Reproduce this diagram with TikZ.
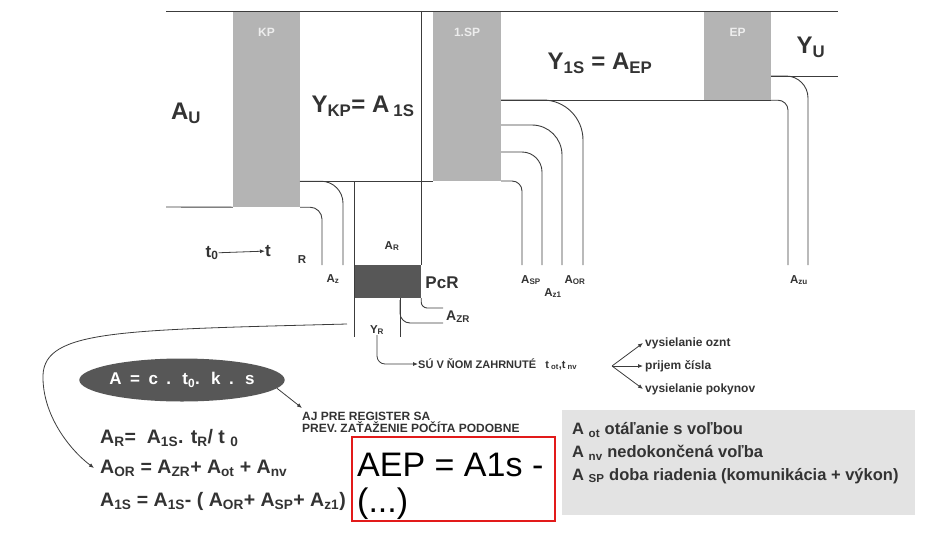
\documentclass[tikz,border=0pt]{standalone}
\usepackage{fontspec}
\setmainfont{Liberation Sans}
\newfontfamily\widesans[LetterSpace=22]{Liberation Sans}
\usepackage{tikz}
\usetikzlibrary{
    arrows.meta,
    positioning,
    shapes.geometric,
    calc
}
\definecolor{blockgray}{HTML}{B4B4B4}
\definecolor{darkblock}{HTML}{575757}
\definecolor{inkgray}{HTML}{333333}
\definecolor{linegray}{HTML}{3C3C3C}
\definecolor{notegray}{HTML}{E3E3E3}
\definecolor{markred}{HTML}{E21A1A}
\newcommand{\fsz}[1]{\fontsize{#1}{#1}\selectfont}
\newcommand{\subx}[1]{\textsubscript{#1}}

\begin{document}
\begin{tikzpicture}[
    x=1pt, y=-1pt,
    >={Latex[length=5pt,width=4pt]},
    every node/.style={text=inkgray},
    stage/.style={fill=blockgray, inner sep=0pt},
    space/.style={inner sep=0pt},
    stagetitle/.style={font=\fsz{12}\bfseries, text=white!93!black, inner sep=0pt},
    bigtext/.style={font=\fsz{24}\bfseries, inner sep=0pt},
    tap/.style={font=\fsz{11.5}\bfseries, inner sep=0pt},
    formula/.style={font=\fsz{19.5}\bfseries, anchor=west, inner sep=0pt},
    note/.style={font=\fsz{12}\bfseries, anchor=west, inner sep=0pt},
    legendtext/.style={font=\fsz{16.5}\bfseries, anchor=west, inner sep=0pt},
    pipe/.style={draw=linegray, line width=0.9pt},
    wire/.style={->, draw=linegray, line width=0.8pt}
]
\useasboundingbox (0,0) rectangle (933,533);

% ---------------------------------------------------------------- Blocks
\node[stage, minimum width=67, minimum height=196] (kp)  at (266.5,109)  {};
\node[space, minimum width=121, minimum height=170] (ykp) at (360.5,96) {};
\node[stage, minimum width=68, minimum height=170] (sp1) at (467,96)     {};
\node[space, minimum width=203, minimum height=89]  (y1s) at (602.5,55.5) {};
\node[stage, minimum width=67, minimum height=89]  (ep)  at (737.5,55.5) {};
\node[fill=darkblock, inner sep=0pt, minimum width=66, minimum height=33] (pcr) at (388,281.5) {};

% ---------------------------------------------------------------- Titles
\node[stagetitle, below=17pt of kp.north]  {KP};
\node[stagetitle, below=17pt of sp1.north] {1.SP};
\node[stagetitle, below=17pt of ep.north]  {EP};

\node[bigtext] (au)   at (186,113) {A\subx{U}};
\node[bigtext] (ykpt) at (363,106) {Y\subx{KP}= A\,\subx{1S}};
\node[bigtext] (y1st) at (600,63)  {Y\subx{1S} = A\subx{EP}};
\node[bigtext] (yu)   at (811,47)  {Y\subx{U}};

% ---------------------------------------------------------------- Pipes
\draw[pipe] (166,11) -- (838,11);
\draw[pipe] (166,207) -- (kp.south west);
\draw[pipe] (ykp.south west) -- (sp1.south west);
\draw[pipe] (y1s.south west) -- (ep.south east);
\draw[pipe] (ep.east |- 0,76) -- (838,76);

% KP outlets
\draw[pipe, rounded corners=12] (kp.south east) -| (322,265);
\draw[pipe, rounded corners=22] (ykp.south west) -| (343,265);

% register branch (A_R, PcR, Y_R)
\draw[pipe] (ykp.north east) -- (pcr.north east);
\draw[pipe, rounded corners=6] (pcr.south east) |- (443,308);
\draw[pipe] (ykp.south west -| pcr.west) -- (pcr.west |- 0,337);
\draw[pipe] (400,298) -- (400,337);
\draw[pipe, rounded corners=10] (400,300) |- (443,323);

% 1.SP outlets
\foreach \yy/\xx/\rr in {100/583/40, 125/562/30, 152/542/20, 181/522/10}
    \draw[pipe, rounded corners=\rr] (sp1.east |- 0,\yy) -| (\xx,265);

% EP outlets
\draw[pipe, rounded corners=10] (ep.south east) -| (788,265);
\draw[pipe, rounded corners=22] (ep.east |- 0,76) -| (808,265);

% ---------------------------------------------------------------- Outlet labels
\node[tap] (az)  at (333,279) {A\subx{z}};
\node[tap] (ar)  at (392,246) {A\subx{R}};
\node[tap, font=\fsz{17}\bfseries] (pcrt) at (442,283) {PcR};
\node[tap, font=\fsz{14}\bfseries, anchor=west] (azr) at (446,317) {A\subx{ZR}};
\node[tap] (yr)  at (377,330) {Y\subx{R}};
\node[tap] (asp) at (531,280) {A\subx{SP}};
\node[tap] (az1) at (553,293) {A\subx{z1}};
\node[tap] (aor) at (575,280) {A\subx{OR}};
\node[tap] (azu) at (799,280) {A\subx{zu}};

\node[font=\fsz{17}\bfseries, inner sep=0pt] (t0) at (212,253) {t\subx{0}};
\node[font=\fsz{17}\bfseries, inner sep=0pt] (t)  at (268,251) {t};
\draw[wire] (t0) -- (t);
\node[tap] (rt) at (302,260) {R};

% ---------------------------------------------------------------- Y_R contents
\node[note, font=\fsz{11}\bfseries] (sv) at (418,364) {SÚ V ŇOM ZAHRNUTÉ \ \ t\subx{ ot},t\subx{\ nv}};
\node[note] (b1) at (645,343) {vysielanie oznt};
\node[note] (b2) at (645,366) {prijem čísla};
\node[note] (b3) at (645,389) {vysielanie pokynov};
\coordinate (fork) at (612,366);
\draw[wire, rounded corners=8] (yr.south) |- (sv.west);
\foreach \b in {b1,b2,b3}
    \draw[wire] (fork) -- ([xshift=-2pt]\b.west);

% ---------------------------------------------------------------- Formulas
\node[ellipse, fill=darkblock, minimum width=200, minimum height=43, inner sep=0pt,
      text=white, font=\fsz{17}\bfseries\widesans] (law) at (182,380) {A = c . t\subx{0}. k . s};
\node[note, anchor=north west, align=left, font=\fsz{12}\bfseries] (reg) at (302,412)
    {AJ PRE REGISTER SA\\PREV. ZAŤAŽENIE POČÍTA PODOBNE};
\draw[wire] (law.-5) -- ([shift={(0,-4)}]reg.north west);

\node[formula] (far)  at (100,438) {A\subx{R}= \ A\subx{1S}. t\subx{R}/ t \subx{0}};
\node[formula] (faor) at (100,468) {A\subx{OR} = A\subx{ZR}+ A\subx{ot} + A\subx{nv}};
\node[formula] (fa1s) at (100,501) {A\subx{1S} = A\subx{1S}- ( A\subx{OR}+ A\subx{SP}+ A\subx{z1})};

\coordinate (yrout) at (347,324);
\draw[wire] (yrout) .. controls (120,330) and (45,330) .. (43,375)
                    .. controls (42,415) and (70,450) .. ([xshift=-6pt]faor.west);

% ---------------------------------------------------------------- Notes
\node[draw=markred, line width=1.8pt, minimum width=203, minimum height=84, inner sep=0pt] (aep) at (453.5,479) {};
\node[anchor=north west, align=left, inner sep=0pt, text=black, font=\fsz{34}] (aept) at (357,453)
    {AEP = A1s -\\[2pt](...)};

\node[fill=notegray, minimum width=353, minimum height=105, inner sep=0pt] (legend) at (738.5,462.5) {};
\node[legendtext] (lot) at (572,430) {A \subx{ot} otáľanie s voľbou};
\node[legendtext] (lnv) at (572,453) {A \subx{nv} nedokončená voľba};
\node[legendtext] (lsp) at (572,476) {A \subx{SP} doba riadenia (komunikácia + výkon)};

\end{tikzpicture}
\end{document}
